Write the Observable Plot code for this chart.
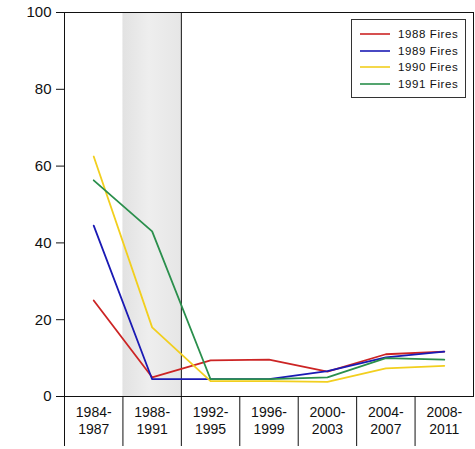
<!DOCTYPE html>
<html>
<head>
<meta charset="utf-8">
<script src="https://cdn.jsdelivr.net/npm/d3@7"></script>
<script src="https://cdn.jsdelivr.net/npm/@observablehq/plot@0.6"></script>
<style>
  html, body { margin: 0; padding: 0; background: #fff; }
  #wrap { position: relative; width: 475px; height: 449px; font-family: "Liberation Sans", Arial, sans-serif; color: #111; }
</style>
</head>
<body>
<div id="wrap"></div>
<script>
const periods = ["1984-\n1987", "1988-\n1991", "1992-\n1995", "1996-\n1999", "2000-\n2003", "2004-\n2007", "2008-\n2011"];
const fires1988 = [25, 5, 9.4, 9.6, 6.5, 11, 11.7];
const fires1989 = [44.5, 4.5, 4.5, 4.5, 6.6, 10.2, 11.7];
const fires1990 = [62.5, 18, 4.0, 4.0, 3.8, 7.3, 8.0];
const fires1991 = [56.3, 43, 4.5, 4.5, 5.0, 10, 9.6];
const seriesNames = ["1988 Fires", "1989 Fires", "1990 Fires", "1991 Fires"];
const seriesColors = ["#cc2424", "#1a1ab4", "#f2cf1e", "#2a8f4c"];
const yTicks = [0, 20, 40, 60, 80, 100];
const shadedPeriod = "1988-\n1991";

const seriesValues = [fires1988, fires1989, fires1990, fires1991];
const data = seriesNames.flatMap((name, s) =>
  seriesValues[s].map((v, i) => ({ series: name, idx: i, value: v })));
const shadeIdx = periods.indexOf(shadedPeriod);
const shade = [{ x1: shadeIdx - 0.5, x2: shadeIdx + 0.5 }];
const boundaries = d3.range(periods.length).map(i => i - 0.5);

const chart = Plot.plot({
  width: 475,
  height: 449,
  marginLeft: 64,
  marginRight: 2,
  marginTop: 12,
  marginBottom: 53,
  style: { fontFamily: "'Liberation Sans', Arial, sans-serif", color: "#111", background: "#fff" },
  x: { type: "linear", domain: [-0.5, periods.length - 0.5] },
  y: { domain: [0, 100] },
  color: { domain: seriesNames, range: seriesColors },
  marks: [
    Plot.rect(shade, { x1: "x1", x2: "x2", y1: 0, y2: 100, fill: "url(#shadeGrad)" }),
    Plot.ruleX(shade, { x: "x2", stroke: "#111", strokeWidth: 1 }),
    Plot.line(data, { x: "idx", y: "value", z: "series", stroke: "series", strokeWidth: 1.8 }),
    Plot.frame({ stroke: "#111", strokeWidth: 1 }),
    Plot.axisY({ ticks: yTicks, tickSize: 8, tickPadding: 5, fontSize: 15, label: null, stroke: "#111" }),
    Plot.axisX({ ticks: boundaries, tickSize: 50, tickFormat: () => "", label: null, stroke: "#111" }),
    Plot.axisX({ ticks: d3.range(periods.length), tickSize: 0, tickPadding: 9, fontSize: 14, lineHeight: 1.2,
                 tickFormat: i => periods[i], label: null })
  ]
});

const ns = "http://www.w3.org/2000/svg";
const defs = document.createElementNS(ns, "defs");
defs.innerHTML = `<linearGradient id="shadeGrad" x1="0" x2="1" y1="0" y2="0">
  <stop offset="0%" stop-color="#e2e2e2"/>
  <stop offset="45%" stop-color="#eeeeee"/>
  <stop offset="100%" stop-color="#e6e6e6"/>
</linearGradient>`;
chart.insertBefore(defs, chart.firstChild);

const wrap = document.getElementById("wrap");
wrap.appendChild(chart);

const legend = document.createElement("div");
Object.assign(legend.style, {
  position: "absolute", left: "351px", top: "19px", width: "115px", height: "79px",
  boxSizing: "border-box", border: "1px solid #333", background: "#fff",
  padding: "6px 0 0 8px", fontSize: "11.5px", letterSpacing: "0.6px", fontFamily: "'Liberation Sans', Arial, sans-serif", color: "#111"
});
seriesNames.forEach((name, i) => {
  const row = document.createElement("div");
  Object.assign(row.style, { display: "flex", alignItems: "center", height: "16.5px", whiteSpace: "nowrap" });
  row.innerHTML = `<svg width="30" height="4" style="margin-right:8px"><line x1="0" x2="30" y1="2" y2="2" stroke="${seriesColors[i]}" stroke-width="1.6"/></svg><span>${name}</span>`;
  legend.appendChild(row);
});
wrap.appendChild(legend);
</script>
</body>
</html>
